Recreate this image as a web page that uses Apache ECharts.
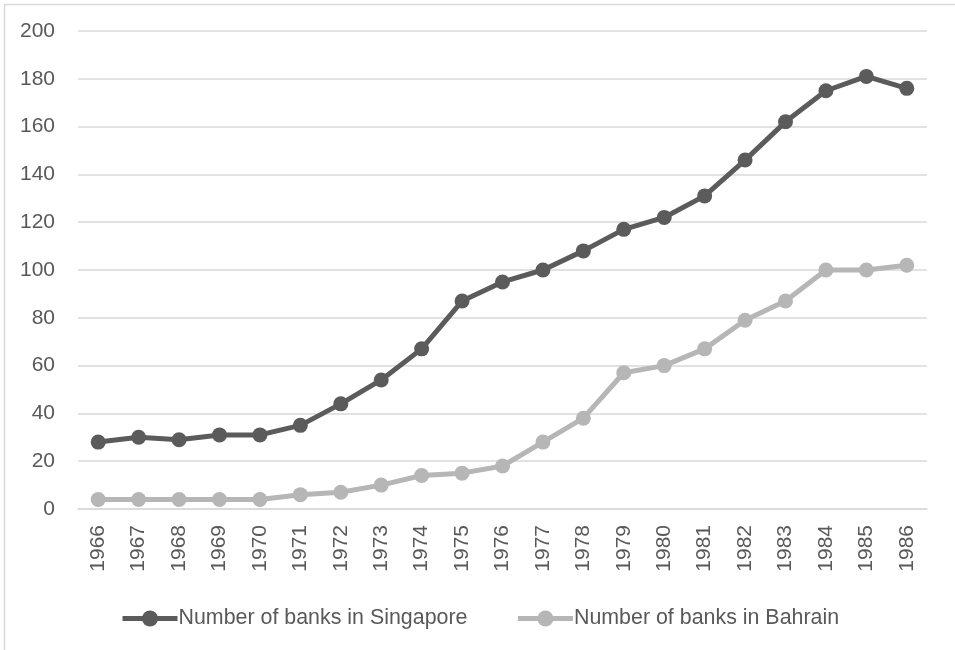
<!DOCTYPE html>
<html>
<head>
<meta charset="utf-8">
<script src="https://cdn.jsdelivr.net/npm/echarts@6/dist/echarts.min.js"></script>
<style>html,body{margin:0;padding:0;background:#fff}#c{width:955px;height:650px}</style>
</head>
<body>
<div id="c"></div>
<script>
const years = ['1966','1967','1968','1969','1970','1971','1972','1973','1974','1975','1976','1977','1978','1979','1980','1981','1982','1983','1984','1985','1986'];
const singapore = [28,30,29,31,31,35,44,54,67,87,95,100,108,117,122,131,146,162,175,181,176];
const bahrain = [4,4,4,4,4,6,7,10,14,15,18,28,38,57,60,67,79,87,100,100,102];
const seriesNames = ['Number of banks in Singapore','Number of banks in Bahrain'];

const font = '"Liberation Sans", Arial, sans-serif';
const chart = echarts.init(document.getElementById('c'), null, {renderer:'canvas'});
chart.setOption({
  animation: false,
  backgroundColor: '#fff',
  graphic: [{
    type: 'rect', left: 2, top: 2,
    shape: {x: 0, y: 0, width: 960, height: 700},
    style: {fill: 'none', stroke: '#d9d9d9', lineWidth: 1.5}
  }],
  grid: {left: 78, right: 28, top: 31, bottom: 141, containLabel: false},
  legend: {
    left: 115, top: 603,
    itemWidth: 55, itemHeight: 20, itemGap: 48,
    lineStyle: {width: 5},
    textStyle: {fontFamily: font, fontSize: 21.4, color: '#595959', padding: [0,0,0,-4]},
    data: seriesNames
  },
  xAxis: {
    type: 'category', data: years, boundaryGap: true,
    axisLine: {show: true, lineStyle: {color: '#d9d9d9', width: 1.5}},
    axisTick: {show: false},
    axisLabel: {rotate: 90, margin: 16, fontFamily: font, fontSize: 21, color: '#595959', interval: 0}
  },
  yAxis: {
    type: 'value', min: 0, max: 200, interval: 20,
    axisLine: {show: false}, axisTick: {show: false},
    splitLine: {lineStyle: {color: '#d9d9d9', width: 1.5}},
    axisLabel: {margin: 23, fontFamily: font, fontSize: 21, color: '#595959'}
  },
  series: [
    {name: seriesNames[0], type: 'line', data: singapore, symbol: 'circle', symbolSize: 15,
     lineStyle: {color: '#5b5b5b', width: 5}, itemStyle: {color: '#5b5b5b'}},
    {name: seriesNames[1], type: 'line', data: bahrain, symbol: 'circle', symbolSize: 15,
     lineStyle: {color: '#b6b6b6', width: 5}, itemStyle: {color: '#b6b6b6'}}
  ]
});
</script>
</body>
</html>
